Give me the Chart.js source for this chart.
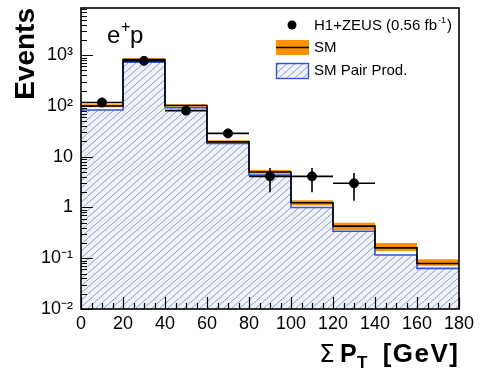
<!DOCTYPE html>
<html><head><meta charset="utf-8">
<script src="https://cdn.jsdelivr.net/npm/chart.js@4.4.1/dist/chart.umd.min.js"></script>
<style>html,body{margin:0;padding:0;background:#fff;}#wrap{width:480px;height:370px;}</style>
</head><body><div id="wrap"><canvas id="c" width="480" height="370"></canvas></div>
<script>
// ---- data ----
const binEdges   = [0, 20, 40, 60, 80, 100, 120, 140, 160, 180];
const smValues   = [100, 820, 102, 19.6, 5.0, 1.24, 0.43, 0.16, 0.079];
const smLow      = [94, 790, 97, 18.4, 4.6, 1.10, 0.36, 0.139, 0.071];
const smHigh     = [108, 870, 108, 21.0, 5.5, 1.38, 0.50, 0.20, 0.095];
const pairValues = [83, 730, 92, 18.3, 4.35, 1.0, 0.34, 0.116, 0.063];
const dataX       = [10, 30, 50, 70, 90, 110, 130];
const dataY       = [117, 773, 81, 28.8, 4.1, 4.1, 3.0];
const dataErrLow  = [106, 745, 72, 23.5, 2.0, 2.0, 1.36];
const dataErrHigh = [128, 801, 90, 34.5, 6.0, 6.0, 4.8];
const dataXHalf   = [10, 10, 10, 10, 10, 10, 10];
const xTickValues = [0, 20, 40, 60, 80, 100, 120, 140, 160, 180];
const yTickValues = [0.01, 0.1, 1, 10, 100, 1000];
const yTickLabels = ['10\u207B\u00B2', '10\u207B\u00B9', '1', '10', '10\u00B2', '10\u00B3'];
const legendLabels = ['H1+ZEUS (0.56 fb', 'SM', 'SM Pair Prod.'];
const legendSup = '-1';
const processLabel = ['e', '+', 'p'];
const xTitleParts = ['\u03A3', 'P', 'T', '[GeV]'];
const yTitle = 'Events';

const FAM = '"Liberation Sans", Arial, Helvetica, sans-serif';
const ORANGE = '#ff9100';
const BLUE = '#2f55d8';

function steps(edges, vals) {
  const pts = [];
  for (let i = 0; i < vals.length; i++) {
    pts.push({x: edges[i], y: vals[i]});
    pts.push({x: edges[i + 1], y: vals[i]});
  }
  return pts;
}

const canvas = document.getElementById('c');
const mainCtx = canvas.getContext('2d');
function makeHatch() {
  const w = 8, h = 7;
  const c = document.createElement('canvas'); c.width = w; c.height = h;
  const g = c.getContext('2d');
  g.fillStyle = '#eff1f8'; g.fillRect(0, 0, w, h);
  g.strokeStyle = '#939dc8'; g.lineWidth = 1.0;
  for (const dx of [-w, 0, w]) { g.beginPath(); g.moveTo(dx, h); g.lineTo(dx + w, 0); g.stroke(); }
  return mainCtx.createPattern(c, 'repeat');
}
const hatch = makeHatch();

const frameTicks = {
  id: 'frameTicks',
  afterDatasetsDraw(chart) {
    const {ctx, chartArea: a, scales: {x, y}} = chart;
    ctx.save();
    ctx.strokeStyle = '#000';
    // error bars
    ctx.lineWidth = 1.6;
    for (let i = 0; i < dataX.length; i++) {
      const px = x.getPixelForValue(dataX[i]);
      const py = y.getPixelForValue(dataY[i]);
      ctx.beginPath();
      ctx.moveTo(x.getPixelForValue(dataX[i] - dataXHalf[i]), py);
      ctx.lineTo(x.getPixelForValue(dataX[i] + dataXHalf[i]), py);
      ctx.moveTo(px, y.getPixelForValue(dataErrLow[i]));
      ctx.lineTo(px, y.getPixelForValue(dataErrHigh[i]));
      ctx.stroke();
    }
    // ticks
    ctx.lineWidth = 1.2;
    ctx.beginPath();
    for (let v = x.min; v <= x.max; v += 5) {
      const px = Math.round(x.getPixelForValue(v)) + 0.5;
      const len = (v % 20 === 0) ? 12 : 6;
      ctx.moveTo(px, a.bottom); ctx.lineTo(px, a.bottom - len);
    }
    for (let d = -2; d <= 3; d++) {
      for (let m = 1; m <= 9; m++) {
        const v = m * Math.pow(10, d);
        if (v < y.min || v > y.max) continue;
        const py = Math.round(y.getPixelForValue(v)) + 0.5;
        const len = (m === 1) ? 12 : 6;
        ctx.moveTo(a.left, py); ctx.lineTo(a.left + len, py);
      }
    }
    ctx.stroke();
    // frame
    ctx.lineWidth = 1.6;
    ctx.strokeRect(a.left, a.top, a.right - a.left, a.bottom - a.top);
    ctx.restore();
  },
  afterDraw(chart) {
    const {ctx} = chart;
    ctx.save();
    ctx.fillStyle = '#000';
    ctx.textBaseline = 'alphabetic';
    // process label e+p
    ctx.font = '24px ' + FAM;
    ctx.fillText(processLabel[0], 107, 43);
    ctx.font = '16px ' + FAM;
    ctx.fillText(processLabel[1], 121, 32);
    ctx.font = '24px ' + FAM;
    ctx.fillText(processLabel[2], 130, 43);
    // legend
    ctx.beginPath(); ctx.arc(292, 25, 4.5, 0, Math.PI * 2); ctx.fill();
    ctx.font = '15px ' + FAM;
    ctx.textBaseline = 'middle';
    ctx.fillText(legendLabels[0], 314, 26);
    const w0 = ctx.measureText(legendLabels[0]).width;
    ctx.font = '9px ' + FAM;
    ctx.fillText(legendSup, 314 + w0 + 1, 21);
    const ws = ctx.measureText(legendSup).width;
    ctx.font = '15px ' + FAM;
    ctx.fillText(')', 314 + w0 + ws + 2, 26);
    ctx.fillStyle = ORANGE; ctx.fillRect(276, 40, 33, 15);
    ctx.strokeStyle = '#000'; ctx.lineWidth = 1.6;
    ctx.beginPath(); ctx.moveTo(276, 47.5); ctx.lineTo(309, 47.5); ctx.stroke();
    ctx.fillStyle = '#000';
    ctx.fillText(legendLabels[1], 314, 48);
    ctx.fillStyle = hatch; ctx.fillRect(276, 63, 33, 16);
    ctx.strokeStyle = BLUE; ctx.lineWidth = 1.4; ctx.strokeRect(276.5, 63.5, 32, 15);
    ctx.fillStyle = '#000';
    ctx.fillText(legendLabels[2], 314, 71);
    // x title
    ctx.textBaseline = 'alphabetic';
    ctx.font = '25px "DejaVu Sans", ' + FAM;
    ctx.fillText(xTitleParts[0], 319, 362);
    ctx.font = 'bold 25px ' + FAM;
    ctx.fillText(xTitleParts[1], 340, 362);
    ctx.font = 'bold 17px ' + FAM;
    ctx.fillText(xTitleParts[2], 357, 368);
    ctx.font = 'bold 26px ' + FAM;
    const chars = Array.from(xTitleParts[3]);
    const spacing = 1.5;
    let total = 0;
    for (const ch of chars) total += ctx.measureText(ch).width;
    total += spacing * (chars.length - 1);
    let cx = 458 - total;
    for (const ch of chars) {
      ctx.fillText(ch, cx, 362);
      cx += ctx.measureText(ch).width + spacing;
    }
    ctx.restore();
  }
};

const chart = new Chart(canvas, {
  type: 'line',
  data: {
    datasets: [
      {label: 'H1+ZEUS', type: 'scatter', data: dataX.map((v, i) => ({x: v, y: dataY[i]})),
       pointRadius: 4.5, pointBackgroundColor: '#000', pointBorderColor: '#000', showLine: false, order: 0},
      {label: 'SM', data: steps(binEdges, smValues), borderColor: '#000', borderWidth: 1.6,
       pointRadius: 0, fill: false, tension: 0, order: 1},
      {label: 'SM Pair Prod. line', data: steps(binEdges, pairValues), borderColor: BLUE, borderWidth: 1.6,
       pointRadius: 0, fill: false, tension: 0, order: 2},
      {label: 'SM band high', data: steps(binEdges, smHigh), borderWidth: 0, borderColor: 'rgba(0,0,0,0)',
       backgroundColor: ORANGE, pointRadius: 0, fill: 4, tension: 0, order: 3},
      {label: 'SM band low', data: steps(binEdges, smLow), borderWidth: 0, borderColor: 'rgba(0,0,0,0)',
       pointRadius: 0, fill: false, tension: 0, order: 4},
      {label: 'SM Pair Prod.', data: steps(binEdges, pairValues), borderWidth: 0, borderColor: 'rgba(0,0,0,0)',
       backgroundColor: hatch, pointRadius: 0, fill: 'start', tension: 0, order: 5}
    ]
  },
  options: {
    responsive: false, animation: false, devicePixelRatio: 1,
    layout: {padding: {top: 8, right: 21, bottom: 0, left: 0}},
    plugins: {legend: {display: false}, tooltip: {enabled: false}},
    scales: {
      x: {
        type: 'linear', min: 0, max: 180,
        afterBuildTicks: s => { s.ticks = xTickValues.map(v => ({value: v})); },
        ticks: {font: {size: 18, family: FAM}, color: '#000', padding: 4, maxRotation: 0, autoSkip: false},
        grid: {display: false, drawTicks: false}, border: {display: false},
        afterFit: s => { s.height = 61; s.paddingLeft = 0; s.paddingRight = 0; }
      },
      y: {
        type: 'logarithmic', min: 0.01, max: 8500,
        afterBuildTicks: s => { s.ticks = yTickValues.map(v => ({value: v})); },
        ticks: {font: {size: 18, family: FAM}, color: '#000', padding: 8, autoSkip: false,
                callback: v => yTickLabels[yTickValues.indexOf(v)]},
        grid: {display: false, drawTicks: false}, border: {display: false},
        title: {display: true, text: yTitle, align: 'end', color: '#000',
                font: {size: 28, weight: 'bold', family: FAM}, padding: {top: 9, bottom: 0}},
        afterFit: s => { s.width = 81; s.paddingTop = 0; s.paddingBottom = 0; }
      }
    }
  },
  plugins: [frameTicks]
});
</script></body></html>
